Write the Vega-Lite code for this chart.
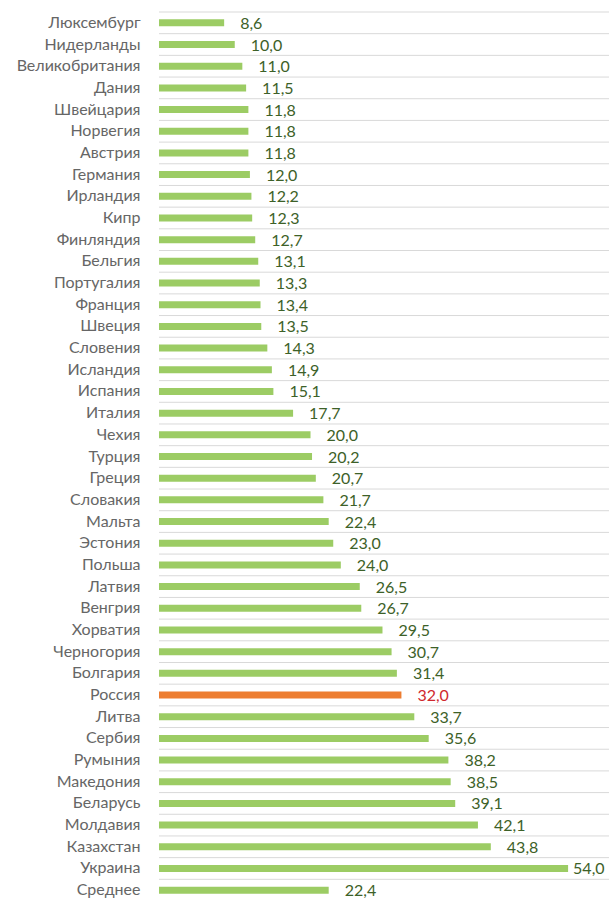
{
  "$schema": "https://vega.github.io/schema/vega-lite/v6.json",
  "width": 450,
  "height": 889,
  "autosize": {"type": "none"},
  "padding": {"top": 12, "left": 159, "right": 0, "bottom": 0},
  "background": "white",
  "config": {
    "view": {"stroke": null},
    "font": "Lato",
    "locale": {"number": {"decimal": ",", "thousands": " ", "grouping": [3], "currency": ["", ""]}}
  },
  "data": {
    "values": [
      {"country": "Люксембург", "value": 8.6},
      {"country": "Нидерланды", "value": 10.0},
      {"country": "Великобритания", "value": 11.0},
      {"country": "Дания", "value": 11.5},
      {"country": "Швейцария", "value": 11.8},
      {"country": "Норвегия", "value": 11.8},
      {"country": "Австрия", "value": 11.8},
      {"country": "Германия", "value": 12.0},
      {"country": "Ирландия", "value": 12.2},
      {"country": "Кипр", "value": 12.3},
      {"country": "Финляндия", "value": 12.7},
      {"country": "Бельгия", "value": 13.1},
      {"country": "Португалия", "value": 13.3},
      {"country": "Франция", "value": 13.4},
      {"country": "Швеция", "value": 13.5},
      {"country": "Словения", "value": 14.3},
      {"country": "Исландия", "value": 14.9},
      {"country": "Испания", "value": 15.1},
      {"country": "Италия", "value": 17.7},
      {"country": "Чехия", "value": 20.0},
      {"country": "Турция", "value": 20.2},
      {"country": "Греция", "value": 20.7},
      {"country": "Словакия", "value": 21.7},
      {"country": "Мальта", "value": 22.4},
      {"country": "Эстония", "value": 23.0},
      {"country": "Польша", "value": 24.0},
      {"country": "Латвия", "value": 26.5},
      {"country": "Венгрия", "value": 26.7},
      {"country": "Хорватия", "value": 29.5},
      {"country": "Черногория", "value": 30.7},
      {"country": "Болгария", "value": 31.4},
      {"country": "Россия", "value": 32.0},
      {"country": "Литва", "value": 33.7},
      {"country": "Сербия", "value": 35.6},
      {"country": "Румыния", "value": 38.2},
      {"country": "Македония", "value": 38.5},
      {"country": "Беларусь", "value": 39.1},
      {"country": "Молдавия", "value": 42.1},
      {"country": "Казахстан", "value": 43.8},
      {"country": "Украина", "value": 54.0},
      {"country": "Среднее", "value": 22.4}
    ]
  },
  "encoding": {
    "y": {
      "field": "country",
      "type": "nominal",
      "sort": null,
      "scale": {"paddingInner": 0, "paddingOuter": 0},
      "axis": {
        "title": null,
        "domain": false,
        "ticks": false,
        "grid": false,
        "labelPadding": 19,
        "labelColor": "#666666",
        "labelFontSize": 16,
        "labelFont": "Lato"
      }
    }
  },
  "layer": [
    {
      "mark": {"type": "rule", "color": "#d9d9d9", "strokeWidth": 1},
      "encoding": {
        "y": {"field": "country", "type": "nominal", "sort": null, "bandPosition": 0}
      }
    },
    {
      "mark": {"type": "bar", "size": 7},
      "encoding": {
        "x": {
          "field": "value",
          "type": "quantitative",
          "scale": {"domain": [0, 59.4], "nice": false},
          "axis": null
        },
        "color": {
          "condition": {"test": "datum.country === 'Россия'", "value": "#ed7d31"},
          "value": "#9ccc64"
        }
      }
    },
    {
      "transform": [{"filter": "datum.country !== 'Украина'"}],
      "mark": {"type": "text", "align": "left", "baseline": "middle", "dx": 16, "dy": 1, "fontSize": 16, "font": "Lato"},
      "encoding": {
        "x": {"field": "value", "type": "quantitative"},
        "text": {"field": "value", "type": "quantitative", "format": ".1f"},
        "color": {
          "condition": {"test": "datum.country === 'Россия'", "value": "#d0282e"},
          "value": "#3d6128"
        }
      }
    },
    {
      "transform": [{"filter": "datum.country === 'Украина'"}],
      "mark": {"type": "text", "align": "left", "baseline": "middle", "dx": 5, "dy": 1, "fontSize": 16, "font": "Lato", "color": "#3d6128"},
      "encoding": {
        "x": {"field": "value", "type": "quantitative"},
        "text": {"field": "value", "type": "quantitative", "format": ".1f"}
      }
    }
  ]
}
